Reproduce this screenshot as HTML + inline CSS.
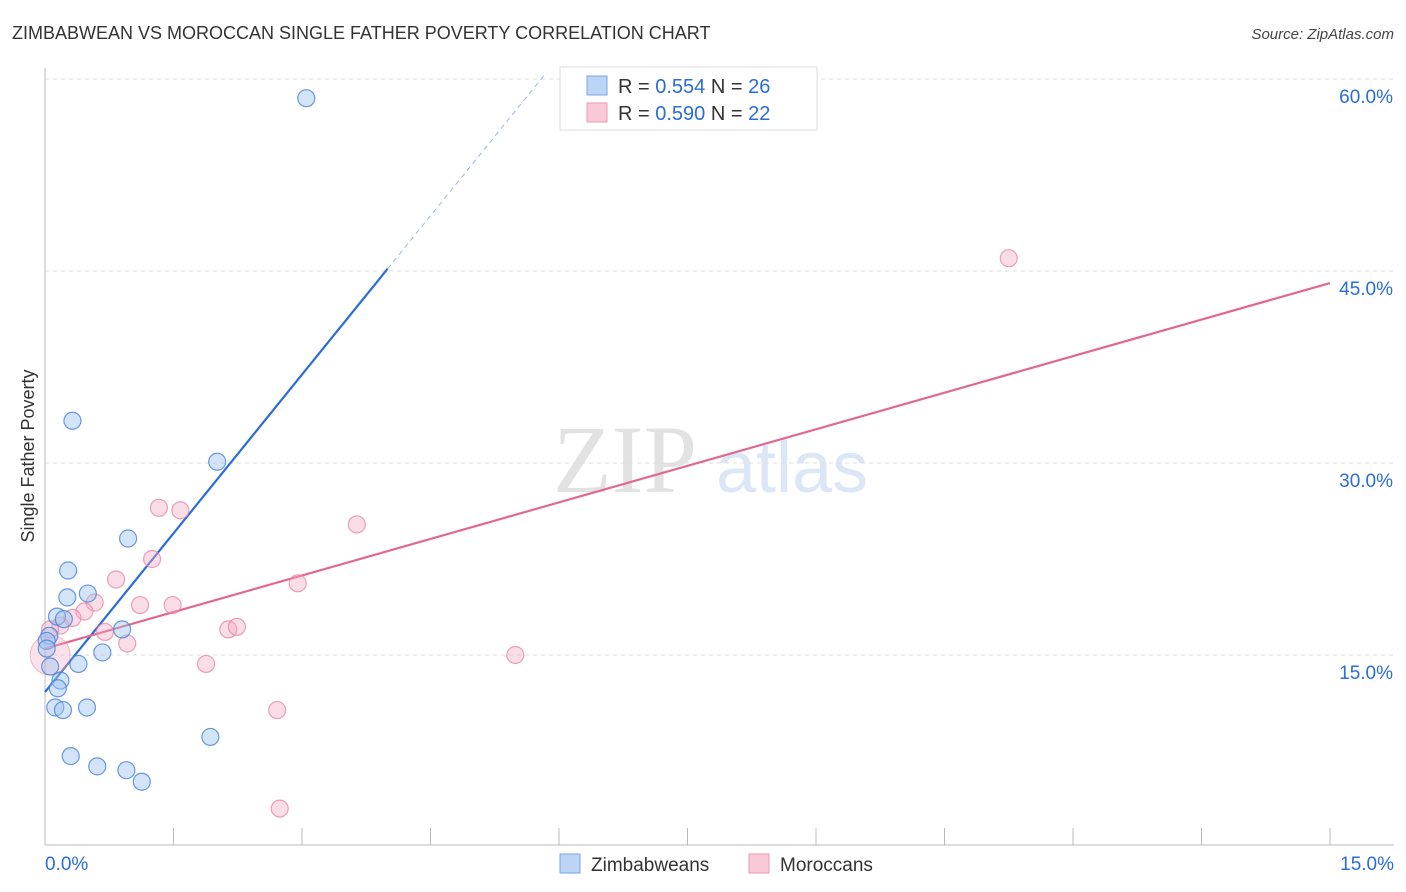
<!DOCTYPE html>
<html><head><meta charset="utf-8"><style>
body{margin:0;background:#fff;font-family:"Liberation Sans",sans-serif;}
svg{display:block}
</style></head><body>
<svg id="chart" width="1406" height="892" xmlns="http://www.w3.org/2000/svg" font-family="Liberation Sans, sans-serif">
<text x="12" y="39" font-size="18" fill="#333">ZIMBABWEAN VS MOROCCAN SINGLE FATHER POVERTY CORRELATION CHART</text>
<text x="1394" y="39" font-size="15" fill="#444" text-anchor="end" font-style="italic">Source: ZipAtlas.com</text>
<text x="553" y="492" font-size="96" fill="#e2e2e2" font-family="Liberation Serif, serif">ZIP</text>
<text x="716" y="492" font-size="72" fill="#dbe6f7">atlas</text>
<text transform="translate(34,456) rotate(-90)" font-size="18" fill="#333" text-anchor="middle">Single Father Poverty</text>
<g id="grid"></g><g id="axes"></g><g id="lines"></g><g id="pts"></g>
<g>
<rect x="560" y="67" width="257" height="63" fill="#fff" stroke="#ddd"/>
<rect x="587" y="76" width="20" height="19" fill="#bcd4f5" stroke="#7aa6e8"/>
<text x="618" y="93" font-size="20" fill="#333">R = <tspan fill="#2a6dd6">0.554</tspan>   N = <tspan fill="#2a6dd6">26</tspan></text>
<rect x="587" y="103" width="20" height="19" fill="#f9c9d7" stroke="#ee99b2"/>
<text x="618" y="120" font-size="20" fill="#333">R = <tspan fill="#2a6dd6">0.590</tspan>   N = <tspan fill="#2a6dd6">22</tspan></text>
</g>
<g>
<rect x="560" y="854" width="20" height="19" fill="#bcd4f5" stroke="#7aa6e8"/>
<text x="591" y="871" font-size="19" fill="#333">Zimbabweans</text>
<rect x="749" y="854" width="20" height="19" fill="#f9c9d7" stroke="#ee99b2"/>
<text x="780" y="871" font-size="19" fill="#333">Moroccans</text>
</g>
</svg>
<script>
const xTicks=[0,1.5,3,4.5,6,7.5,9,10.5,12,13.5,15];
const yTicks=[15,30,45,60];
const yTickLabels=["15.0%","30.0%","45.0%","60.0%"];
const blueX=[3.05,0.32,2.01,0.97,0.27,0.50,0.26,0.14,0.22,0.05,0.02,0.90,0.67,0.39,0.06,0.18,0.15,0.12,0.21,0.49,1.93,0.30,0.61,0.95,1.13,0.02];
const blueY=[58.5,33.3,30.1,24.1,21.6,19.8,19.5,18.0,17.8,16.5,16.1,17.0,15.2,14.3,14.1,13.0,12.4,10.9,10.7,10.9,8.6,7.1,6.3,6.0,5.1,15.5];
const pinkX=[11.25,1.33,1.58,3.64,1.25,0.83,2.95,0.58,1.11,1.49,0.46,0.32,0.18,0.70,2.14,2.24,0.96,0.06,1.88,5.49,2.71,2.74];
const pinkY=[46.0,26.5,26.3,25.2,22.5,20.9,20.6,19.1,18.9,18.9,18.4,17.9,17.3,16.8,17.0,17.2,15.9,17.0,14.3,15.0,10.7,3.0];
const blueTrend=[12.1,8.27]; // intercept, slope
const pinkTrend=[15.5,1.904];
const X=v=>45+v*1285/15, Y=v=>847-v*192/15;
const NS="http://www.w3.org/2000/svg";
function mk(parent,tag,attrs){const e=document.createElementNS(NS,tag);for(const k in attrs)e.setAttribute(k,attrs[k]);document.getElementById(parent).appendChild(e);return e;}
yTicks.forEach((t,i)=>{
 const g=mk('grid','line',{x1:45,x2:1394,y1:Y(t),y2:Y(t),stroke:'#ddd','stroke-dasharray':'4,4'});
 
 
 const l=mk('grid','text',{x:1393,y:Y(t)+24,'font-size':19,fill:'#2a6dd6','text-anchor':'end'});
 l.textContent=yTickLabels[i];
 
 
});
let a=mk('axes','line',{x1:45,x2:45,y1:68,y2:845,stroke:'#bbb'});


a=mk('axes','line',{x1:45,x2:1394,y1:845,y2:845,stroke:'#bbb'});


xTicks.forEach(t=>{const k=mk('axes','line',{x1:X(t),x2:X(t),y1:828,y2:845,stroke:'#bbb'});
 
 });
let xl=mk('axes','text',{x:45,y:870,'font-size':19,fill:'#2a6dd6'});xl.textContent=xTicks[0].toFixed(1)+'%';


xl=mk('axes','text',{x:1394,y:870,'font-size':19,fill:'#2a6dd6','text-anchor':'end'});xl.textContent=xTicks[xTicks.length-1].toFixed(1)+'%';


// large pink blob near origin
let big=mk('pts','circle',{cx:X(pinkX[17]),cy:Y(15.0),r:20,fill:'rgba(246,170,195,0.35)',stroke:'rgba(230,130,165,0.5)'});


pinkX.forEach((x,i)=>{const c=mk('pts','circle',{cx:X(x),cy:Y(pinkY[i]),r:8.5,fill:'rgba(246,170,195,0.4)',stroke:'rgba(230,130,165,0.75)','stroke-width':1.2});
 
 });
blueX.forEach((x,i)=>{const c=mk('pts','circle',{cx:X(x),cy:Y(blueY[i]),r:8.5,fill:'rgba(160,195,240,0.45)',stroke:'rgba(70,130,215,0.8)','stroke-width':1.2});
 
 });
const bEnd=4.0, bDash=(60.5-blueTrend[0])/blueTrend[1];
let ln=mk('lines','line',{x1:X(0),y1:Y(blueTrend[0]),x2:X(bEnd),y2:Y(blueTrend[0]+blueTrend[1]*bEnd),stroke:'#2a6dd6','stroke-width':2.2});


ln=mk('lines','line',{x1:X(bEnd),y1:Y(blueTrend[0]+blueTrend[1]*bEnd),x2:X(bDash),y2:Y(blueTrend[0]+blueTrend[1]*bDash),stroke:'#9ab8e6','stroke-width':1,'stroke-dasharray':'5,4'});


ln=mk('lines','line',{x1:X(0),y1:Y(pinkTrend[0]),x2:X(15),y2:Y(pinkTrend[0]+pinkTrend[1]*15),stroke:'#e2678f','stroke-width':2.2});


</script>
</body></html>
